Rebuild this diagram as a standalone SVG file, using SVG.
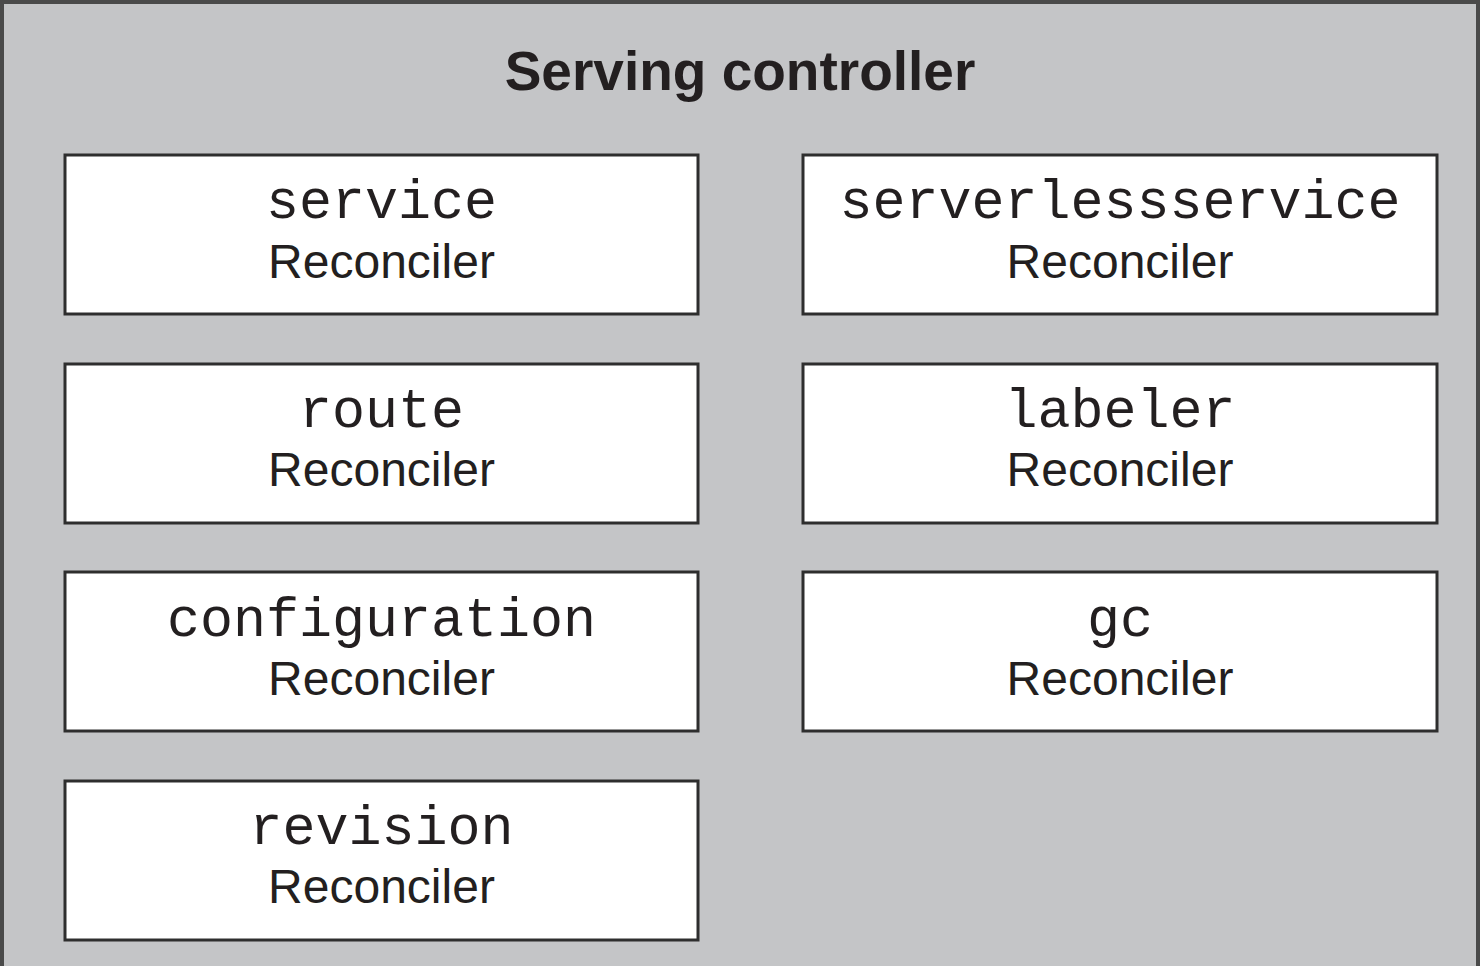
<svg xmlns="http://www.w3.org/2000/svg" width="1480" height="966" viewBox="0 0 1480 966">
<style>
.outer{fill:#c4c5c7;stroke:#4a4a4a;stroke-width:4}
.box{fill:#ffffff;stroke:#2e2e2e;stroke-width:3}
.title{font-family:"Liberation Sans",Arial,sans-serif;font-weight:bold;font-size:55px;fill:#231f20;text-anchor:middle}
.mono{font-family:"Liberation Mono","Courier New",monospace;font-size:55px;fill:#231f20;text-anchor:middle}
.sans{font-family:"Liberation Sans",Arial,sans-serif;font-size:48px;fill:#231f20;text-anchor:middle}
</style>
<rect class="outer" x="2" y="2" width="1476" height="990"/>
<text class="title" x="740" y="90">Serving controller</text>
<g id="service">
<rect class="box" x="65" y="155" width="633" height="159"/>
<text class="mono" x="381.5" y="218">service</text>
<text class="sans" x="381.5" y="278">Reconciler</text>
</g>
<g id="serverlessservice">
<rect class="box" x="803" y="155" width="634" height="159"/>
<text class="mono" x="1120" y="218">serverlessservice</text>
<text class="sans" x="1120" y="278">Reconciler</text>
</g>
<g id="route">
<rect class="box" x="65" y="364" width="633" height="159"/>
<text class="mono" x="381.5" y="427">route</text>
<text class="sans" x="381.5" y="486">Reconciler</text>
</g>
<g id="labeler">
<rect class="box" x="803" y="364" width="634" height="159"/>
<text class="mono" x="1120" y="427">labeler</text>
<text class="sans" x="1120" y="486">Reconciler</text>
</g>
<g id="configuration">
<rect class="box" x="65" y="572" width="633" height="159"/>
<text class="mono" x="381.5" y="636">configuration</text>
<text class="sans" x="381.5" y="695">Reconciler</text>
</g>
<g id="gc">
<rect class="box" x="803" y="572" width="634" height="159"/>
<text class="mono" x="1120" y="636">gc</text>
<text class="sans" x="1120" y="695">Reconciler</text>
</g>
<g id="revision">
<rect class="box" x="65" y="781" width="633" height="159"/>
<text class="mono" x="381.5" y="844">revision</text>
<text class="sans" x="381.5" y="903">Reconciler</text>
</g>
<g id="connectors"/>
</svg>
